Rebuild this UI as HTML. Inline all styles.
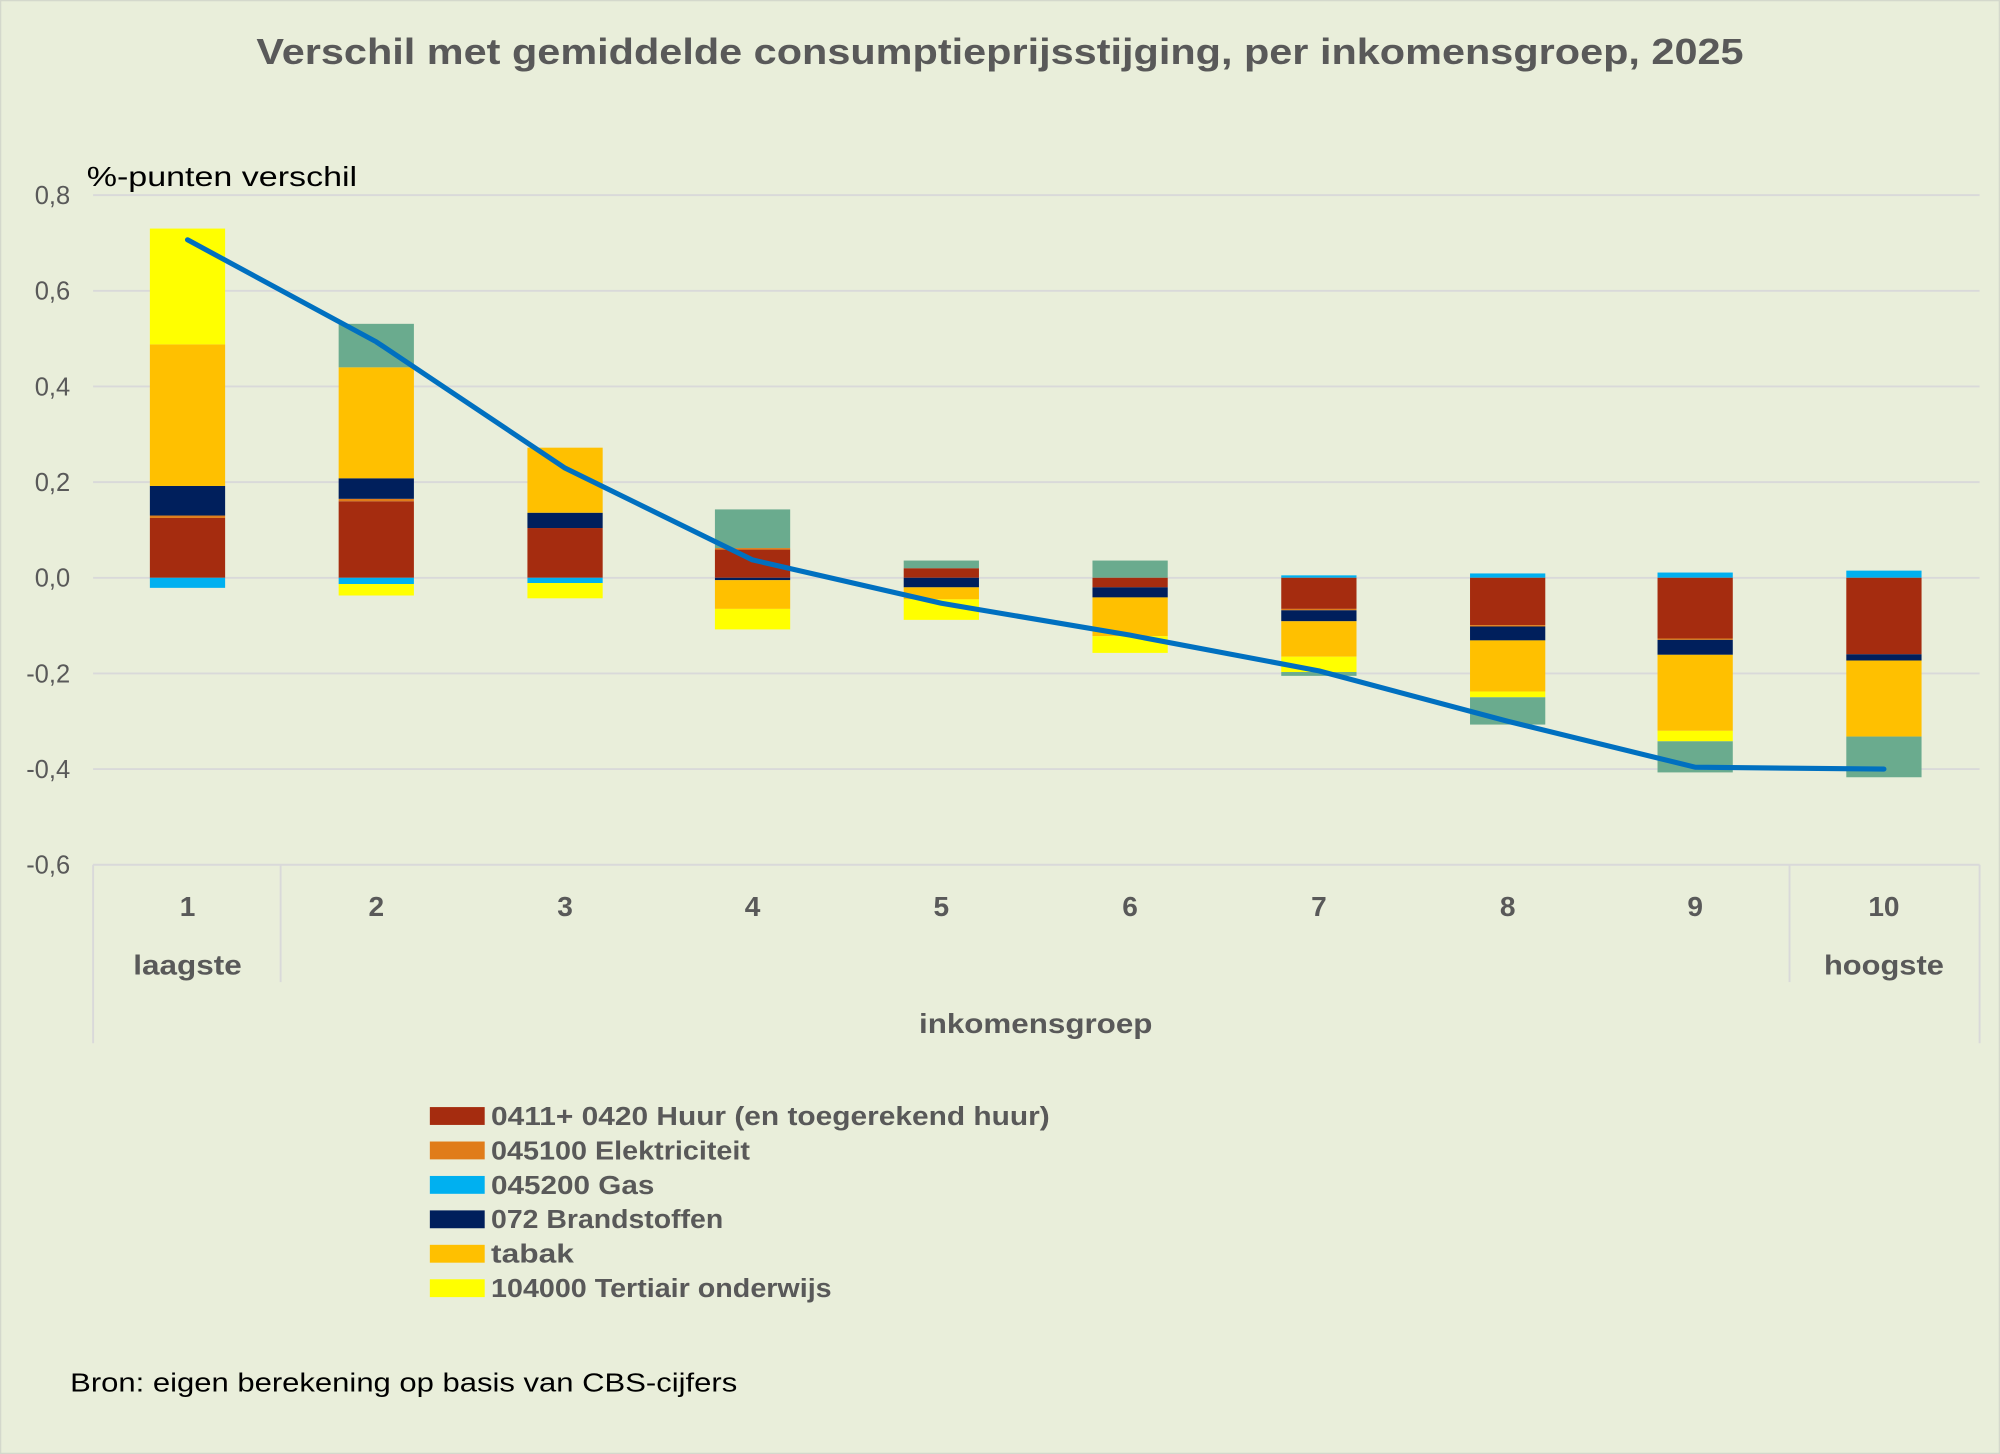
<!DOCTYPE html>
<html><head><meta charset="utf-8"><style>
html,body{margin:0;padding:0;background:#E9EEDA;}
svg{display:block}
text{font-family:"Liberation Sans",sans-serif;}
</style></head><body>
<svg width="2000" height="1454" viewBox="0 0 1568 1140" preserveAspectRatio="none" xmlns="http://www.w3.org/2000/svg">
<rect x="0" y="0" width="1568" height="1140" fill="#E9EEDA" stroke="#d4d8cc" stroke-width="2"/>
<text x="784" y="50" text-anchor="middle" font-size="28" font-weight="bold" fill="#595959" textLength="1166" lengthAdjust="spacingAndGlyphs">Verschil met gemiddelde consumptieprijsstijging, per inkomensgroep, 2025</text>
<text x="68" y="146" font-size="22" fill="#000" textLength="212" lengthAdjust="spacingAndGlyphs">%-punten verschil</text>
<g stroke="#d9d9d9" stroke-width="1.5">
<line x1="73" y1="153" x2="1552" y2="153"/><line x1="73" y1="228" x2="1552" y2="228"/>
<line x1="73" y1="303" x2="1552" y2="303"/><line x1="73" y1="378" x2="1552" y2="378"/>
<line x1="73" y1="453" x2="1552" y2="453"/><line x1="73" y1="528" x2="1552" y2="528"/>
<line x1="73" y1="603" x2="1552" y2="603"/><line x1="73" y1="678" x2="1552" y2="678"/>
<line x1="73" y1="678" x2="73" y2="818"/><line x1="1552" y1="678" x2="1552" y2="818"/>
<line x1="220" y1="678" x2="220" y2="770"/><line x1="1403" y1="678" x2="1403" y2="770"/>
</g>
<g font-size="20" fill="#595959" text-anchor="end">
<text x="55" y="160">0,8</text><text x="55" y="235">0,6</text><text x="55" y="310">0,4</text>
<text x="55" y="385">0,2</text><text x="55" y="460">0,0</text><text x="55" y="535">-0,2</text>
<text x="55" y="610">-0,4</text><text x="55" y="685">-0,6</text>
</g>
<g>
<rect x="117.5" y="406.1" width="59" height="46.9" fill="#A52C0F"/>
<rect x="117.5" y="404.2" width="59" height="1.9" fill="#E07C1A"/>
<rect x="117.5" y="381" width="59" height="23.2" fill="#001F5C"/>
<rect x="117.5" y="270" width="59" height="111" fill="#FFC000"/>
<rect x="117.5" y="179.2" width="59" height="90.8" fill="#FFFF00"/>
<rect x="117.5" y="453" width="59" height="7.9" fill="#00B0F0"/>
<rect x="265.5" y="393" width="59" height="60" fill="#A52C0F"/>
<rect x="265.5" y="391.1" width="59" height="1.9" fill="#E07C1A"/>
<rect x="265.5" y="375" width="59" height="16.1" fill="#001F5C"/>
<rect x="265.5" y="288" width="59" height="87" fill="#FFC000"/>
<rect x="265.5" y="253.9" width="59" height="34.1" fill="#6AAB8E"/>
<rect x="265.5" y="453" width="59" height="4.9" fill="#00B0F0"/>
<rect x="265.5" y="457.9" width="59" height="9" fill="#FFFF00"/>
<rect x="413.5" y="414" width="59" height="39" fill="#A52C0F"/>
<rect x="413.5" y="402" width="59" height="12" fill="#001F5C"/>
<rect x="413.5" y="351" width="59" height="51" fill="#FFC000"/>
<rect x="413.5" y="453" width="59" height="4.1" fill="#00B0F0"/>
<rect x="413.5" y="457.1" width="59" height="12" fill="#FFFF00"/>
<rect x="560.5" y="430.9" width="59" height="22.1" fill="#A52C0F"/>
<rect x="560.5" y="429.7" width="59" height="1.2" fill="#E07C1A"/>
<rect x="560.5" y="399.4" width="59" height="30.3" fill="#6AAB8E"/>
<rect x="560.5" y="453" width="59" height="1.9" fill="#001F5C"/>
<rect x="560.5" y="454.9" width="59" height="22.5" fill="#FFC000"/>
<rect x="560.5" y="477.4" width="59" height="16.1" fill="#FFFF00"/>
<rect x="708.5" y="445.5" width="59" height="7.5" fill="#A52C0F"/>
<rect x="708.5" y="439.5" width="59" height="6" fill="#6AAB8E"/>
<rect x="708.5" y="453" width="59" height="7.5" fill="#001F5C"/>
<rect x="708.5" y="460.5" width="59" height="9.4" fill="#FFC000"/>
<rect x="708.5" y="469.9" width="59" height="16.1" fill="#FFFF00"/>
<rect x="856.5" y="439.5" width="59" height="13.5" fill="#6AAB8E"/>
<rect x="856.5" y="453" width="59" height="7.5" fill="#A52C0F"/>
<rect x="856.5" y="460.5" width="59" height="7.9" fill="#001F5C"/>
<rect x="856.5" y="468.4" width="59" height="30.4" fill="#FFC000"/>
<rect x="856.5" y="498.8" width="59" height="13.1" fill="#FFFF00"/>
<rect x="1004.5" y="451.1" width="59" height="1.9" fill="#00B0F0"/>
<rect x="1004.5" y="453" width="59" height="24.4" fill="#A52C0F"/>
<rect x="1004.5" y="477.4" width="59" height="1.1" fill="#E07C1A"/>
<rect x="1004.5" y="478.5" width="59" height="8.6" fill="#001F5C"/>
<rect x="1004.5" y="487.1" width="59" height="27.8" fill="#FFC000"/>
<rect x="1004.5" y="514.9" width="59" height="12" fill="#FFFF00"/>
<rect x="1004.5" y="526.9" width="59" height="3" fill="#6AAB8E"/>
<rect x="1152.5" y="449.6" width="59" height="3.4" fill="#00B0F0"/>
<rect x="1152.5" y="453" width="59" height="37.1" fill="#A52C0F"/>
<rect x="1152.5" y="490.1" width="59" height="1.1" fill="#E07C1A"/>
<rect x="1152.5" y="491.2" width="59" height="10.9" fill="#001F5C"/>
<rect x="1152.5" y="502.1" width="59" height="40.1" fill="#FFC000"/>
<rect x="1152.5" y="542.2" width="59" height="4.5" fill="#FFFF00"/>
<rect x="1152.5" y="546.7" width="59" height="21.4" fill="#6AAB8E"/>
<rect x="1299.5" y="448.9" width="59" height="4.1" fill="#00B0F0"/>
<rect x="1299.5" y="453" width="59" height="47.6" fill="#A52C0F"/>
<rect x="1299.5" y="500.6" width="59" height="1.1" fill="#E07C1A"/>
<rect x="1299.5" y="501.7" width="59" height="11.7" fill="#001F5C"/>
<rect x="1299.5" y="513.4" width="59" height="59.6" fill="#FFC000"/>
<rect x="1299.5" y="573" width="59" height="8.2" fill="#FFFF00"/>
<rect x="1299.5" y="581.2" width="59" height="24.4" fill="#6AAB8E"/>
<rect x="1447.5" y="447.4" width="59" height="5.6" fill="#00B0F0"/>
<rect x="1447.5" y="453" width="59" height="60" fill="#A52C0F"/>
<rect x="1447.5" y="513" width="59" height="4.9" fill="#001F5C"/>
<rect x="1447.5" y="517.9" width="59" height="59.6" fill="#FFC000"/>
<rect x="1447.5" y="577.5" width="59" height="31.9" fill="#6AAB8E"/>
</g>
<polyline points="147,188 295,268 443,367 590,439 738,473 886,498 1034,526 1182,565.5 1329,601.5 1477,603" fill="none" stroke="#0070C0" stroke-width="4" stroke-linejoin="round" stroke-linecap="round"/>
<g font-size="22" font-weight="bold" fill="#595959" text-anchor="middle">
<text x="147" y="718">1</text><text x="295" y="718">2</text><text x="443" y="718">3</text>
<text x="590" y="718">4</text><text x="738" y="718">5</text><text x="886" y="718">6</text>
<text x="1034" y="718">7</text><text x="1182" y="718">8</text><text x="1329" y="718">9</text>
<text x="1477" y="718">10</text>
<text x="147" y="764" textLength="85" lengthAdjust="spacingAndGlyphs">laagste</text><text x="1477" y="764" textLength="94" lengthAdjust="spacingAndGlyphs">hoogste</text>
<text x="812" y="810" textLength="183" lengthAdjust="spacingAndGlyphs">inkomensgroep</text>
</g>
<g>
<rect x="337" y="868" width="43" height="14" fill="#A52C0F"/>
<rect x="337" y="895" width="43" height="14" fill="#E07C1A"/>
<rect x="337" y="922" width="43" height="14" fill="#00B0F0"/>
<rect x="337" y="949" width="43" height="14" fill="#001F5C"/>
<rect x="337" y="976" width="43" height="14" fill="#FFC000"/>
<rect x="337" y="1003" width="43" height="14" fill="#FFFF00"/>
</g>
<g font-size="20" font-weight="bold" fill="#595959">
<text x="385" y="882" textLength="438" lengthAdjust="spacingAndGlyphs">0411+ 0420 Huur (en toegerekend huur)</text>
<text x="385" y="909" textLength="203" lengthAdjust="spacingAndGlyphs">045100 Elektriciteit</text>
<text x="385" y="936" textLength="128" lengthAdjust="spacingAndGlyphs">045200 Gas</text>
<text x="385" y="963" textLength="182" lengthAdjust="spacingAndGlyphs">072 Brandstoffen</text>
<text x="385" y="990" textLength="65" lengthAdjust="spacingAndGlyphs">tabak</text>
<text x="385" y="1017" textLength="267" lengthAdjust="spacingAndGlyphs">104000 Tertiair onderwijs</text>
</g>
<text x="55" y="1091" font-size="20" fill="#000" textLength="523" lengthAdjust="spacingAndGlyphs">Bron: eigen berekening op basis van CBS-cijfers</text>
</svg>
</body></html>
